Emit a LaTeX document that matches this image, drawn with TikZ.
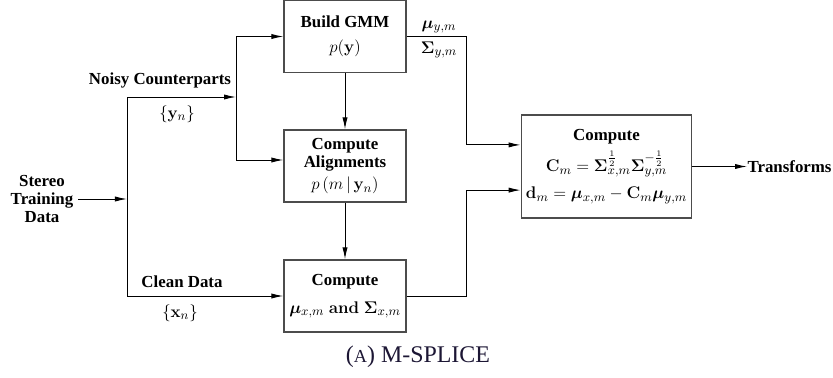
\documentclass[tikz,border=0pt]{standalone}
\usepackage{amsmath,bm}
\usepackage[no-math]{fontspec}
\setmainfont{Liberation Serif}
\usetikzlibrary{arrows.meta,positioning,calc}
\definecolor{capcol}{RGB}{28,22,52}
\newcommand{\boxtitle}[1]{{\fontsize{12}{13}\selectfont\bfseries #1}}

\begin{document}
\begin{tikzpicture}[
            x = 0.025cm, y = -0.025cm,
            font = \fontsize{13}{13}\selectfont,
            block/.style={
                draw = black!70,
                line width = 0.9pt,
                rectangle,
                align = center,
                minimum width = 3.05cm,
                minimum height = 1.8cm
            },
            lbl/.style={font = \fontsize{12}{12.5}\selectfont\bfseries, align = center},
            every path/.style = {line width = 0.7pt},
            >={Latex[length=3mm, width=1.3mm]}
        ]
        \useasboundingbox (0,0) rectangle (833,377);

        \node[block] (gmm) at (345,36.5) {\boxtitle{Build GMM}\\[5pt] $p(\mathbf{y})$};
        \node[block] (align) at (345,166) {\boxtitle{Compute}\\[0pt] \boxtitle{Alignments}\\[2.5pt] $p\,(m\,|\,\mathbf{y}_n)$};
        \node[block] (stats) at (345,296) {\boxtitle{Compute}\\[7pt] $\bm{\mu}_{x,m}\ \mathbf{and}\ \bm{\Sigma}_{x,m}$};
        \node[block, minimum width = 4.175cm, minimum height = 2.575cm] (trans) at (606.5,166.5)
            {\boxtitle{Compute}\\[4pt]
             $\mathbf{C}_m = \bm{\Sigma}_{x,m}^{\frac{1}{2}}\bm{\Sigma}_{y,m}^{-\frac{1}{2}}$\\[6pt]
             $\mathbf{d}_m = \bm{\mu}_{x,m} - \mathbf{C}_m\bm{\mu}_{y,m}$};

        \node[lbl] (stereo) at (42,199) {Stereo\\Training\\Data};
        \node[lbl] (noisy) at (160,80) {Noisy Counterparts};
        \node (ynset) at (177,114) {$\{\mathbf{y}_n\}$};
        \node[lbl] (clean) at (182,282) {Clean Data};
        \node (xnset) at (180,313) {$\{\mathbf{x}_n\}$};
        \node (muy) at (439,27) {$\bm{\mu}_{y,m}$};
        \node (sigy) at (439,50) {$\bm{\Sigma}_{y,m}$};

        \coordinate (split) at (127,199);
        \coordinate (jtop) at (127,97);
        \coordinate (jbot) at (127,296);
        \coordinate (jnoisy) at (236,97);
        \coordinate (kgmm) at (466,36.5);
        \coordinate (kstats) at (466,296);
        \coordinate (out) at (747,166.5);
        \node[lbl, anchor = west, inner sep = 0pt] (result) at (out) {Transforms};

        \draw[->] (stereo.east |- split) -- (split);
        \draw (jtop) -- (jbot);
        \draw[->] (jtop) -- (jnoisy);
        \draw[->] (jnoisy) |- (gmm.west);
        \draw[->] (jnoisy) |- ([yshift=0.15cm]align.west);
        \draw[->] (jbot) -- (stats.west);
        \draw[->] (gmm) -- (align);
        \draw[->] (align) -- (stats);
        \draw[->] (gmm.east) -- (kgmm) |- ([yshift=0.54cm]trans.west);
        \draw[->] (stats.east) -- (kstats) |- ([yshift=-0.59cm]trans.west);
        \draw[->] (trans.east) -- (out);

        \node[text = capcol, font = \fontsize{17}{19}\selectfont] (caption) at (418,357) {({\fontsize{13}{15}\selectfont A}) M-SPLICE};
    \end{tikzpicture}
\end{document}
